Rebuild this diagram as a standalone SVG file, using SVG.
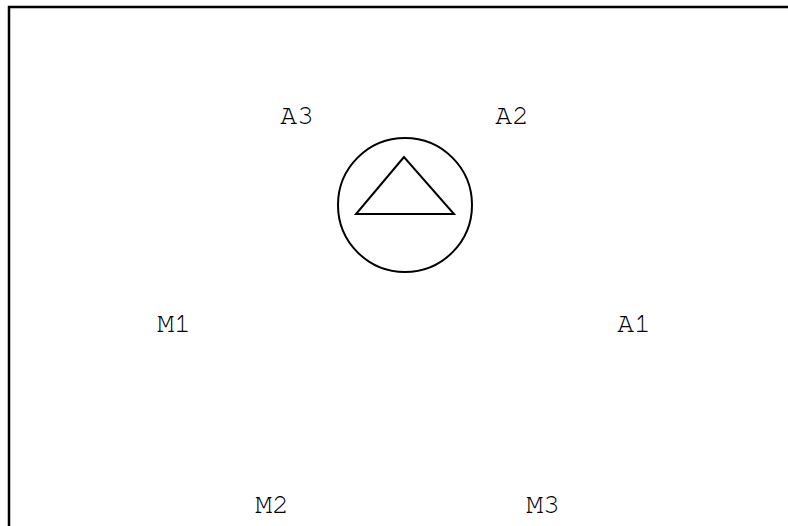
<svg xmlns="http://www.w3.org/2000/svg" width="788" height="526" viewBox="0 0 788 526">
<style>
.lbl{font-family:"Nimbus Mono PS","Nimbus Mono L","FreeMono","Courier","Liberation Mono",monospace;font-size:28px;fill:#000;text-anchor:middle}
.ln{fill:none;stroke:#000;stroke-width:2}
</style>
<rect x="0" y="0" width="788" height="526" fill="#fff"/>
<rect x="9" y="7" width="800" height="540" fill="none" stroke="#000" stroke-width="2.5"/>
<g id="symbol">
<circle class="ln" cx="405" cy="205" r="67"/>
<polygon class="ln" points="404,157 356,214 454,214"/>
</g>
<g id="connectors"></g>
<g id="A3"><text class="lbl" x="297" y="124">A3</text></g>
<g id="A2"><text class="lbl" x="512" y="124">A2</text></g>
<g id="M1"><text class="lbl" x="174" y="332">M1</text></g>
<g id="A1"><text class="lbl" x="634" y="332">A1</text></g>
<g id="M2"><text class="lbl" x="272" y="513">M2</text></g>
<g id="M3"><text class="lbl" x="543" y="513">M3</text></g>
</svg>
